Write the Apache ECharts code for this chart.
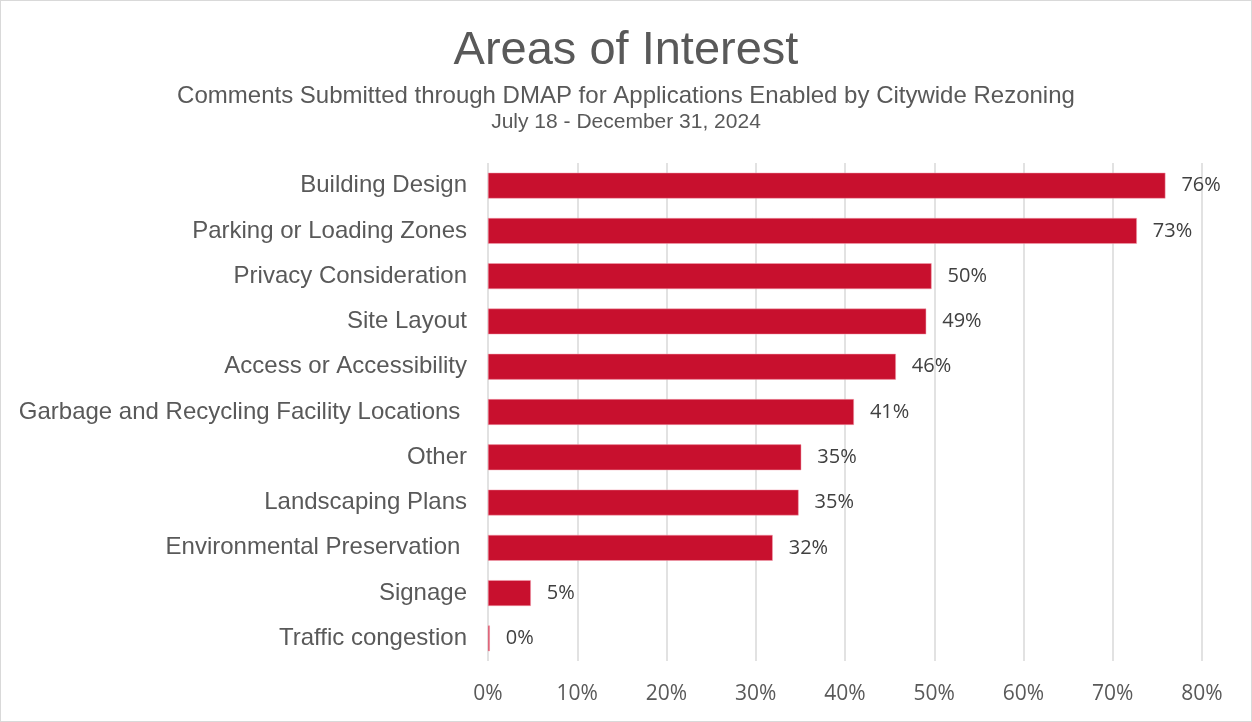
<!DOCTYPE html>
<html>
<head>
<meta charset="utf-8">
<script src="https://cdn.jsdelivr.net/npm/echarts@6/dist/echarts.min.js"></script>
<style>
html,body{margin:0;padding:0;background:#fff;}
#c{width:1250px;height:720px;border:1px solid #d9d9d9;}
</style>
</head>
<body>
<div id="c"></div>
<script>
const categories = [
  "Building Design",
  "Parking or Loading Zones",
  "Privacy Consideration",
  "Site Layout",
  "Access or Accessibility",
  "Garbage and Recycling Facility Locations ",
  "Other",
  "Landscaping Plans",
  "Environmental Preservation ",
  "Signage",
  "Traffic congestion"
];
const values = [75.9, 72.7, 49.7, 49.1, 45.7, 41.0, 35.1, 34.8, 31.9, 4.8, 0.2];
const xTicks = [0, 10, 20, 30, 40, 50, 60, 70, 80];

const chart = echarts.init(document.getElementById('c'));
chart.setOption({
  animation: false,
  backgroundColor: '#fff',
  title: [
    {text: 'Areas of Interest', left: 'center', top: 22,
     textStyle: {fontFamily: 'Liberation Sans', fontSize: 47, fontWeight: 'normal', color: '#595959'}},
    {text: 'Comments Submitted through DMAP for Applications Enabled by Citywide Rezoning', left: 'center', top: 78,
     textStyle: {fontFamily: 'Liberation Sans', fontSize: 24, fontWeight: 'normal', color: '#595959'}},
    {text: 'July 18 - December 31, 2024', left: 'center', top: 106,
     textStyle: {fontFamily: 'Liberation Sans', fontSize: 21, fontWeight: 'normal', color: '#595959'}}
  ],
  grid: {left: 487, right: 49, top: 162, bottom: 60, containLabel: false},
  xAxis: {
    type: 'value', min: 0, max: 80, interval: 10,
    axisLine: {show: false}, axisTick: {show: false},
    splitLine: {lineStyle: {color: '#d9d9d9', width: 1.5}},
    axisLabel: {formatter: v => xTicks.includes(v) ? v + '%' : '', margin: 23,
      fontFamily: 'Open Sans', fontSize: 21, color: '#595959'}
  },
  yAxis: {
    type: 'category', data: categories, inverse: true,
    axisLine: {show: false}, axisTick: {show: false},
    axisLabel: {margin: 21, fontFamily: 'Liberation Sans', fontSize: 24, color: '#595959'}
  },
  series: [{
    type: 'bar', data: values, barWidth: '57%',
    itemStyle: {color: '#C8102E', borderColor: '#f4a0b0', borderWidth: 0.5},
    label: {show: true, position: 'right', distance: 16,
      formatter: p => Math.round(p.value) + '%',
      fontFamily: 'Open Sans', fontSize: 20, color: '#404040'}
  }]
});
</script>
</body>
</html>
